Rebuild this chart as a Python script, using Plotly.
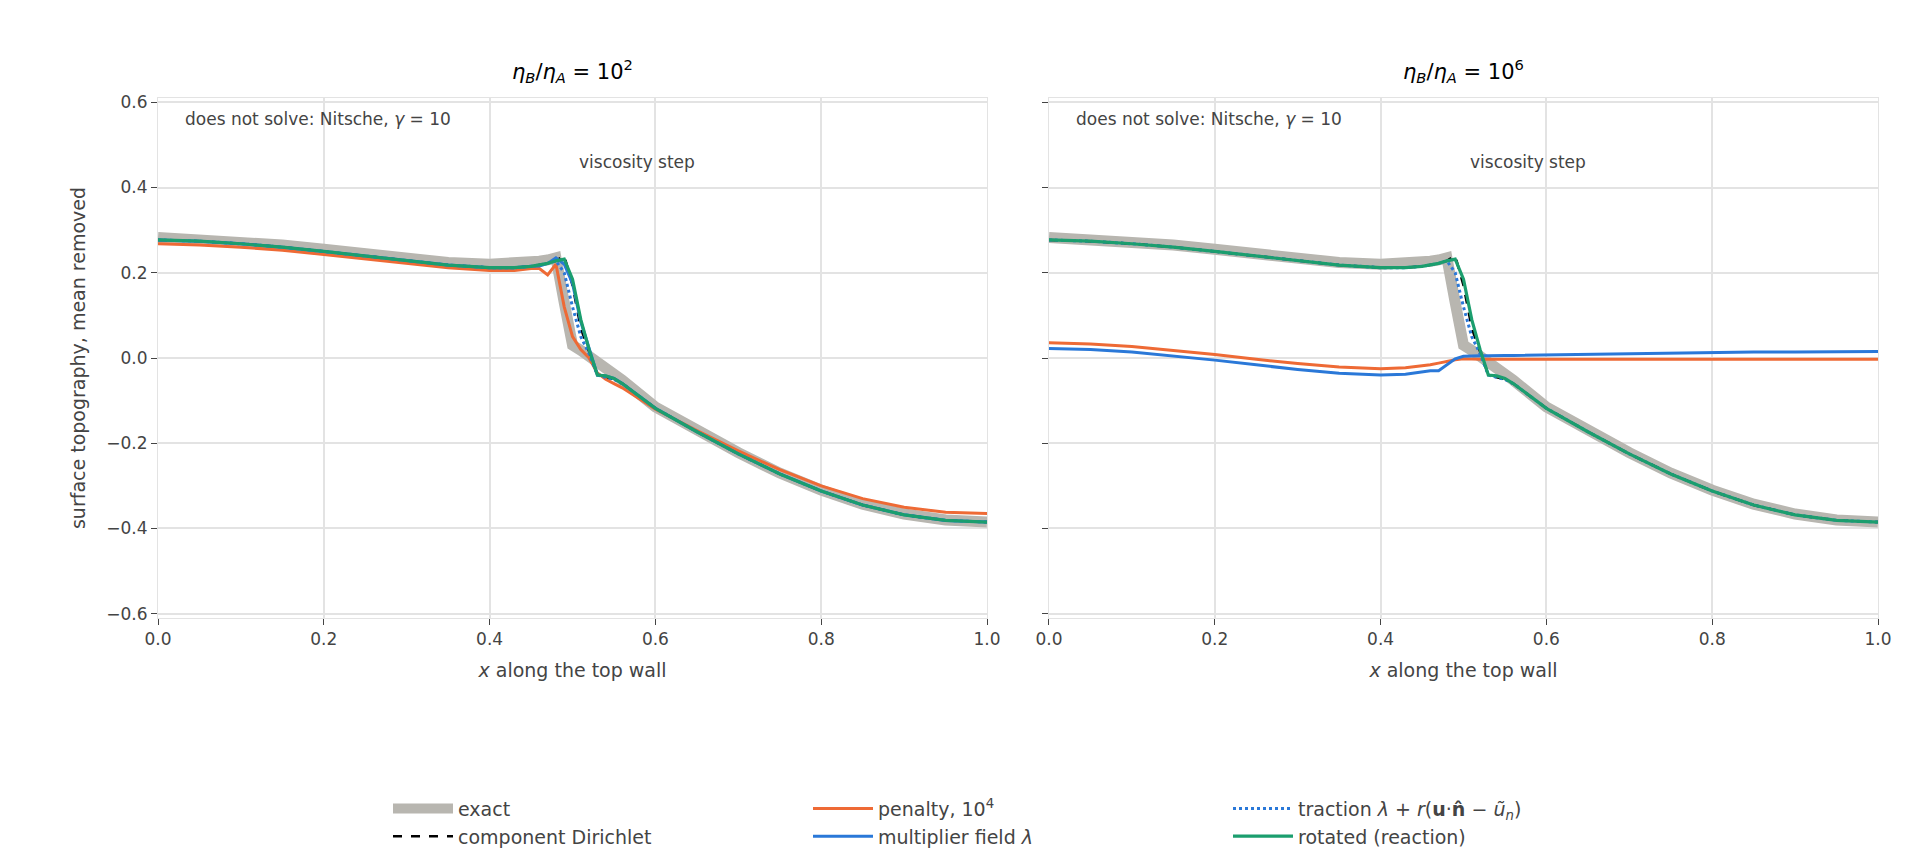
import plotly.graph_objects as go
from plotly.subplots import make_subplots

# shared x positions (top wall samples)
x = [0.0, 0.05, 0.1, 0.15, 0.2, 0.25, 0.3, 0.35, 0.4, 0.43, 0.45, 0.46, 0.47, 0.48, 0.49, 0.5, 0.51, 0.52, 0.53, 0.54, 0.55, 0.56,
     0.6, 0.65, 0.7, 0.75, 0.8, 0.85, 0.9, 0.95, 1.0]

exact = [0.283, 0.279, 0.273, 0.265, 0.255, 0.244, 0.233, 0.224, 0.220, 0.221, 0.224, 0.227, 0.230, 0.235, 0.13, 0.03, 0.018, 0.005, -0.01, -0.025, -0.04, -0.052,
         -0.115, -0.17, -0.222, -0.27, -0.31, -0.343, -0.366, -0.38, -0.385]
rotated = [0.277, 0.274, 0.268, 0.26, 0.25, 0.239, 0.228, 0.218, 0.212, 0.212, 0.215, 0.218, 0.222, 0.228, 0.232, 0.185, 0.09, 0.02, -0.04, -0.042, -0.048, -0.06,
           -0.118, -0.173, -0.225, -0.272, -0.312, -0.345, -0.368, -0.381, -0.385]
dirichlet = [0.277, 0.274, 0.268, 0.26, 0.25, 0.239, 0.228, 0.218, 0.212, 0.212, 0.215, 0.218, 0.222, 0.228, 0.24, 0.17, 0.07, 0.015, -0.04, -0.045, -0.05, -0.06,
             -0.118, -0.173, -0.225, -0.272, -0.312, -0.345, -0.368, -0.381, -0.385]
traction = [0.277, 0.274, 0.268, 0.26, 0.25, 0.239, 0.228, 0.218, 0.212, 0.212, 0.215, 0.218, 0.222, 0.228, 0.2, 0.12, 0.05, 0.01, -0.04, -0.045, -0.05, -0.06,
            -0.118, -0.173, -0.225, -0.272, -0.312, -0.345, -0.368, -0.381, -0.385]
penalty_lo = [0.268, 0.265, 0.26, 0.253, 0.243, 0.233, 0.222, 0.212, 0.205, 0.205, 0.21, 0.21, 0.195, 0.22, 0.12, 0.05, 0.02, 0.0, -0.035, -0.05, -0.06, -0.07,
              -0.12, -0.17, -0.218, -0.262, -0.3, -0.33, -0.35, -0.362, -0.365]
mult_lo = [0.277, 0.274, 0.268, 0.26, 0.25, 0.239, 0.228, 0.218, 0.212, 0.212, 0.215, 0.216, 0.222, 0.235, 0.22, 0.175, 0.085, 0.02, -0.04, -0.042, -0.048, -0.06,
           -0.118, -0.173, -0.225, -0.272, -0.312, -0.345, -0.368, -0.381, -0.385]
penalty_hi = [0.036, 0.033, 0.027, 0.018, 0.008, -0.003, -0.013, -0.021, -0.025, -0.023, -0.019, -0.016, -0.012, -0.008, -0.004, -0.002, -0.003, -0.003, -0.003, -0.003, -0.003, -0.003,
              -0.003, -0.003, -0.003, -0.003, -0.003, -0.003, -0.003, -0.003, -0.003]
mult_hi = [0.022, 0.02, 0.014, 0.005, -0.005, -0.016, -0.027, -0.036, -0.04, -0.038, -0.033, -0.03, -0.03, -0.015, -0.002, 0.004, 0.005, 0.005, 0.005, 0.006, 0.006, 0.006,
           0.007, 0.009, 0.011, 0.012, 0.013, 0.014, 0.014, 0.015, 0.015]

titles = ["<i>η<sub>B</sub></i>/<i>η<sub>A</sub></i> = 10<sup>2</sup>", "<i>η<sub>B</sub></i>/<i>η<sub>A</sub></i> = 10<sup>6</sup>"]
xticks = [0.0, 0.2, 0.4, 0.6, 0.8, 1.0]
yticks = [-0.6, -0.4, -0.2, 0.0, 0.2, 0.4, 0.6]

fig = make_subplots(rows=1, cols=2, shared_yaxes=True, horizontal_spacing=0.036, subplot_titles=titles)

panels = [(penalty_lo, mult_lo), (penalty_hi, mult_hi)]
for col, (pen, mul) in enumerate(panels, start=1):
    show = col == 1
    xr = "x" if col == 1 else "x2"
    yr = "y" if col == 1 else "y2"
    fig.add_vline(x=0.5, line=dict(color="#d8d8d8", width=1.5), layer="below", row=1, col=col)
    fig.add_trace(go.Scatter(x=x, y=exact, mode="lines", name="exact", line=dict(color="#b8b6b0", width=11),
                             showlegend=show, legendgroup="a"), row=1, col=col)
    fig.add_trace(go.Scatter(x=x, y=dirichlet, mode="lines", name="component Dirichlet",
                             line=dict(color="black", width=2.5, dash="dash"), showlegend=show, legendgroup="a"), row=1, col=col)
    fig.add_trace(go.Scatter(x=x, y=pen, mode="lines", name="penalty, 10<sup>4</sup>", line=dict(color="#ee6a35", width=3),
                             showlegend=show, legendgroup="b"), row=1, col=col)
    fig.add_trace(go.Scatter(x=x, y=mul, mode="lines", name="multiplier field <i>λ</i>", line=dict(color="#2a78d8", width=3),
                             showlegend=show, legendgroup="b"), row=1, col=col)
    fig.add_trace(go.Scatter(x=x, y=traction, mode="lines",
                             name="traction <i>λ</i> + <i>r</i>(<b>u</b>·<b>n̂</b> − <i>ũ<sub>n</sub></i>)",
                             line=dict(color="#2a78d8", width=3, dash="dot"), showlegend=show, legendgroup="c"), row=1, col=col)
    fig.add_trace(go.Scatter(x=x, y=rotated, mode="lines", name="rotated (reaction)", line=dict(color="#1b9e6e", width=3.2),
                             showlegend=show, legendgroup="c"), row=1, col=col)
    fig.add_annotation(x=0.03, y=0.56, xref=xr, yref=yr, text="does not solve: Nitsche, <i>γ</i> = 10", showarrow=False,
                       xanchor="left", font=dict(size=17, color="#444"))
    fig.add_annotation(x=0.505, y=0.46, xref=xr, yref=yr, text="viscosity step", showarrow=False,
                       xanchor="left", font=dict(size=17, color="#444"))

ax = dict(showgrid=True, gridcolor="#e3e3e3", gridwidth=1.5, zeroline=False, ticks="outside", ticklen=6,
          tickcolor="#444", tickfont=dict(size=17, color="#444"), linecolor="#e3e3e3", showline=True, mirror=True)
fig.update_xaxes(ax, range=[0, 1], tickvals=xticks, ticktext=[f"{v:.1f}" for v in xticks],
                 title=dict(text="<i>x</i> along the top wall", font=dict(size=19, color="#444")))
fig.update_yaxes(ax, range=[-0.61, 0.61], tickvals=yticks, ticktext=[f"{v:.1f}".replace("-", "−") for v in yticks])
fig.update_yaxes(title=dict(text="surface topography, mean removed", font=dict(size=19, color="#444")), row=1, col=1)
for t in titles:
    fig.update_annotations(selector=dict(text=t), font=dict(size=21, color="black"), yshift=10)

fig.update_layout(
    width=1920, height=860, plot_bgcolor="white", paper_bgcolor="white",
    font=dict(family="DejaVu Sans", color="#444"),
    margin=dict(l=150, r=50, t=90, b=250),
    legend=dict(orientation="h", x=0.5, xanchor="center", y=-0.33, yanchor="top",
                font=dict(size=19, color="#444"), entrywidth=345, tracegroupgap=0, itemwidth=60),
)
fig.write_html("out.html")
